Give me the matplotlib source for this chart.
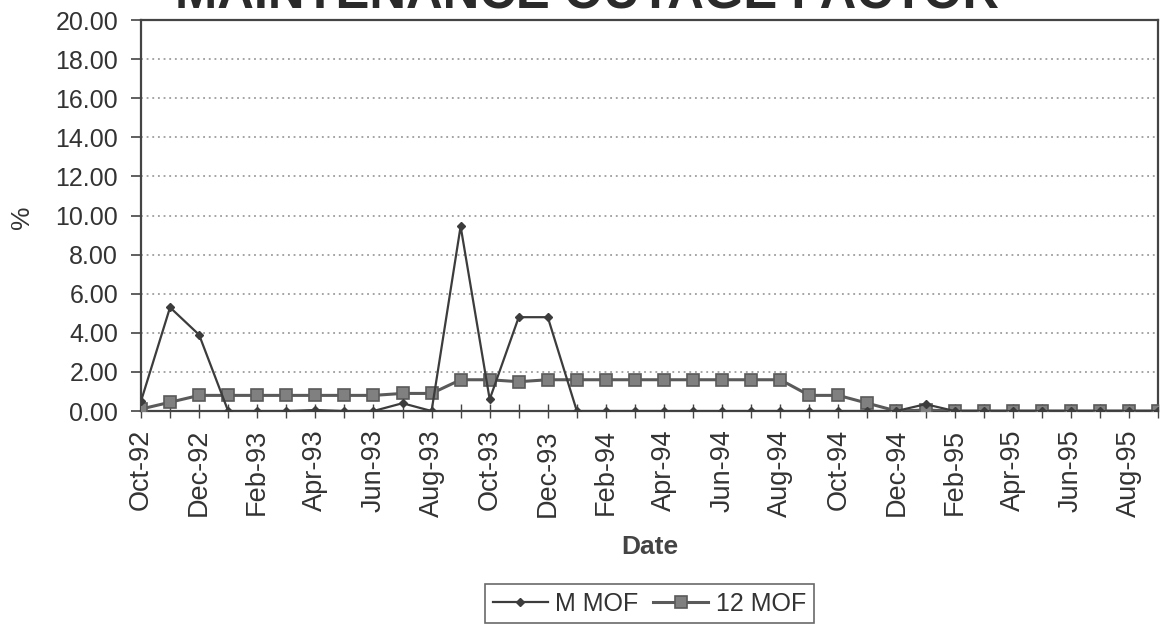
import matplotlib.pyplot as plt
import numpy as np

# monthly dates, Oct-92 .. Sep-95
months = ['Oct-92', 'Nov-92', 'Dec-92', 'Jan-93', 'Feb-93', 'Mar-93', 'Apr-93', 'May-93',
          'Jun-93', 'Jul-93', 'Aug-93', 'Sep-93', 'Oct-93', 'Nov-93', 'Dec-93', 'Jan-94',
          'Feb-94', 'Mar-94', 'Apr-94', 'May-94', 'Jun-94', 'Jul-94', 'Aug-94', 'Sep-94',
          'Oct-94', 'Nov-94', 'Dec-94', 'Jan-95', 'Feb-95', 'Mar-95', 'Apr-95', 'May-95',
          'Jun-95', 'Jul-95', 'Aug-95', 'Sep-95']

m_mof = [0.5, 5.3, 3.9, 0.0, 0.0, 0.0, 0.05, 0.0,
         0.0, 0.4, 0.0, 9.45, 0.6, 4.8, 4.8, 0.0,
         0.0, 0.0, 0.0, 0.0, 0.0, 0.0, 0.0, 0.0,
         0.0, 0.0, 0.0, 0.35, 0.0, 0.0, 0.0, 0.0,
         0.0, 0.0, 0.0, 0.0]

mof_12 = [0.1, 0.45, 0.8, 0.8, 0.8, 0.8, 0.8, 0.8,
          0.8, 0.9, 0.9, 1.6, 1.6, 1.5, 1.6, 1.6,
          1.6, 1.6, 1.6, 1.6, 1.6, 1.6, 1.6, 0.8,
          0.8, 0.4, 0.0, 0.05, 0.0, 0.0, 0.0, 0.0,
          0.0, 0.0, 0.0, 0.0]

plt.rcParams['font.family'] = ['Liberation Sans', 'DejaVu Sans']

fig = plt.figure(figsize=(11.69, 6.24), dpi=100)
ax = fig.add_axes([0.1206, 0.3413, 0.870, 0.6266])

x = np.arange(len(months))
ax.plot(x, mof_12, color='#5a5a5a', lw=2.2, marker='s', ms=8,
        mfc='#808080', mec='#5a5a5a', mew=1.2, label='12 MOF', zorder=3)
ax.plot(x, m_mof, color='#3c3c3c', lw=1.6, marker='D', ms=4,
        mfc='#3c3c3c', mec='#3c3c3c', label='M MOF', zorder=4)

ax.set_xlim(0, len(months) - 1)
ax.set_ylim(0, 20)
ax.set_yticks(np.arange(0, 21, 2))
ax.set_yticklabels(['%.2f' % v for v in np.arange(0, 21, 2)], fontsize=18, color='#333333')
ax.set_xticks(x)
ax.set_xticklabels([m if i % 2 == 0 else '' for i, m in enumerate(months)],
                   rotation=90, fontsize=19.5, color='#333333')
ax.tick_params(axis='y', direction='out', length=7, width=1.2, color='#444444', pad=9.5)
ax.tick_params(axis='x', direction='inout', length=10, width=1, color='#444444', pad=8)

for v in range(2, 20, 2):
    ax.axhline(v, color='#8c8c8c', lw=1.1, ls=(0, (1.2, 2.5)), zorder=1)

for s in ax.spines.values():
    s.set_color('#444444')
    s.set_linewidth(1.6)

ax.set_ylabel('%', fontsize=19, color='#333333', va='center')
ax.yaxis.set_label_coords(-0.117, 0.496)
ax.set_xlabel('Date', fontsize=19, fontweight='bold', color='#444444', va='center')
ax.xaxis.set_label_coords(0.5, -0.348)

# title sits partly above the page edge, as on the scan
fig.text(0.502, 0.987, 'MAINTENANCE OUTAGE FACTOR', fontsize=36.5, fontweight='bold',
         color='#2a2a2a', ha='center', va='baseline')

h, l = ax.get_legend_handles_labels()
leg = fig.legend(h[::-1], l[::-1], loc='upper left', bbox_to_anchor=(0.415, 0.064),
                 borderaxespad=0, ncol=2, fontsize=18, frameon=True, fancybox=False,
                 handlelength=2.2, handletextpad=0.3, columnspacing=0.6,
                 borderpad=0.3, edgecolor='#444444')
leg.get_frame().set_linewidth(1.2)
for t in leg.get_texts():
    t.set_color('#333333')

fig.savefig('out.png', dpi=100)
